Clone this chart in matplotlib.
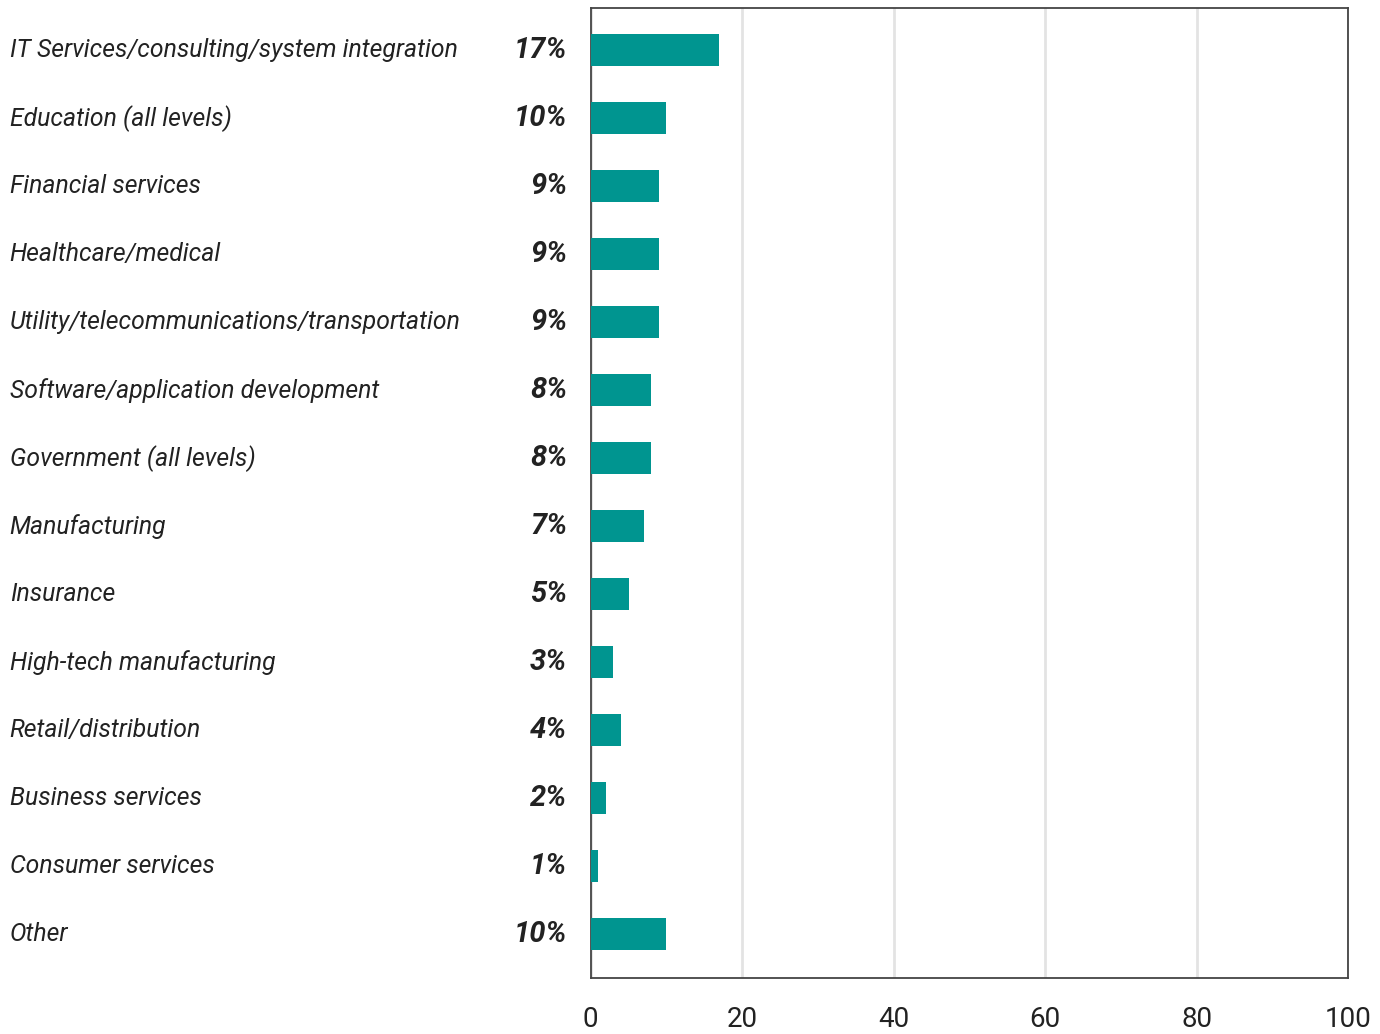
import matplotlib
matplotlib.use("Agg")
import matplotlib.pyplot as plt
from matplotlib.transforms import blended_transform_factory

categories = [
    "IT Services/consulting/system integration",
    "Education (all levels)",
    "Financial services",
    "Healthcare/medical",
    "Utility/telecommunications/transportation",
    "Software/application development",
    "Government (all levels)",
    "Manufacturing",
    "Insurance",
    "High-tech manufacturing",
    "Retail/distribution",
    "Business services",
    "Consumer services",
    "Other",
]
values = [17, 10, 9, 9, 9, 8, 8, 7, 5, 3, 4, 2, 1, 10]
xticks = [0, 20, 40, 60, 80, 100]

plt.rcParams['font.family'] = ['Roboto', 'DejaVu Sans']

fig = plt.figure(figsize=(13.8, 10.34), dpi=100)
ax = fig.add_axes([0.428, 0.054, 0.549, 0.938])

y = list(range(len(categories)))
ax.barh(y, values, height=0.47, color="#009590", zorder=3)

ax.set_xlim(0, 100)
ax.set_ylim(len(categories) - 0.35, -0.62)
ax.set_xticks(xticks)
ax.set_xticklabels([str(t) for t in xticks], fontsize=20, color="#222222")
ax.tick_params(axis="x", length=0, pad=20)
ax.set_yticks([])
ax.grid(axis="x", color="#e3e3e3", linewidth=2, zorder=0)
for s in ax.spines.values():
    s.set_color("#444444")
    s.set_linewidth(1.3)

tr = blended_transform_factory(fig.transFigure, ax.transData)
for i, (cat, v) in enumerate(zip(categories, values)):
    ax.text(0.007, i, cat, transform=tr, ha="left", va="center",
            fontsize=17.8, style="italic", color="#222222")
    ax.text(0.411, i, f"{v}%", transform=tr, ha="right", va="center",
            fontsize=21, style="italic", fontweight="bold", color="#222222")

fig.savefig("out.png", dpi=100)
